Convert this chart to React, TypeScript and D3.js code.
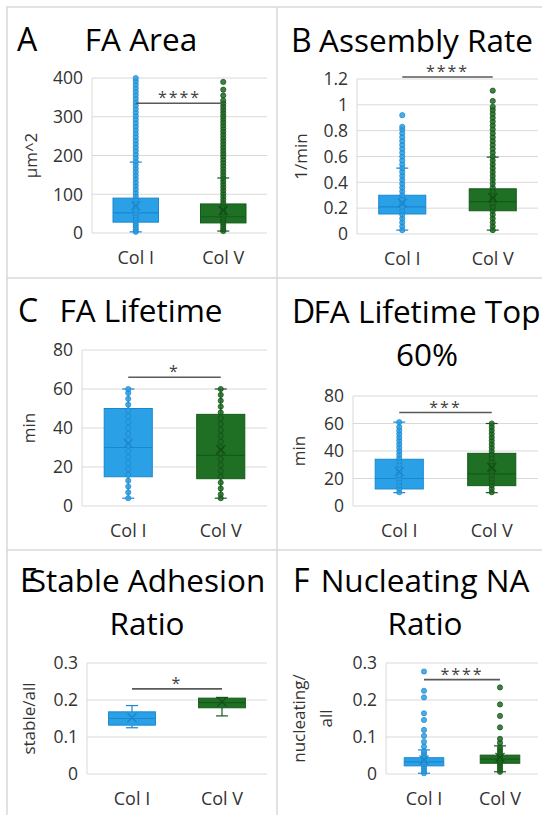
import React, { useEffect, useRef } from 'react';
import * as d3 from 'd3';

const categories = ['Col I', 'Col V'];

// A: FA Area
const areaTicks = [0, 100, 200, 300, 400];
const areaColI = { min: 3, q1: 28, median: 52, q3: 90, max: 183, mean: 70 };
const areaColV = { min: 5, q1: 26, median: 42, q3: 75, max: 142, mean: 58 };
const areaPtsI = [3, 8, 14, 20, 26, 32, 38, 45, 52, 60, 68, 77, 86, 95, 104, 113, 122, 131, 140, 149, 158, 167, 176, 185, 194, 203, 212, 221, 230, 239, 248, 257, 266, 275, 284, 293, 302, 311, 320, 329, 338, 347, 356, 365, 374, 383, 392, 400];
const areaPtsV = [5, 10, 16, 22, 28, 34, 40, 47, 54, 62, 70, 78, 86, 94, 102, 110, 118, 126, 134, 142, 150, 158, 166, 174, 182, 190, 198, 206, 214, 222, 230, 238, 246, 254, 262, 270, 278, 286, 294, 302, 310, 318, 326, 334, 342, 355, 370, 390];

// B: Assembly Rate
const rateTicks = [0, 0.2, 0.4, 0.6, 0.8, 1, 1.2];
const rateColI = { min: 0.03, q1: 0.155, median: 0.21, q3: 0.3, max: 0.51, mean: 0.24 };
const rateColV = { min: 0.03, q1: 0.18, median: 0.25, q3: 0.35, max: 0.595, mean: 0.28 };
const ratePtsI = [0.03, 0.06, 0.09, 0.12, 0.15, 0.18, 0.21, 0.24, 0.27, 0.3, 0.33, 0.36, 0.39, 0.42, 0.45, 0.48, 0.51, 0.54, 0.57, 0.6, 0.63, 0.66, 0.69, 0.72, 0.75, 0.78, 0.81, 0.83, 0.92];
const ratePtsV = [0.03, 0.06, 0.09, 0.12, 0.15, 0.18, 0.21, 0.24, 0.27, 0.3, 0.33, 0.36, 0.39, 0.42, 0.45, 0.48, 0.51, 0.54, 0.57, 0.6, 0.63, 0.66, 0.69, 0.72, 0.75, 0.78, 0.81, 0.84, 0.87, 0.9, 0.93, 0.96, 0.985, 1.03, 1.11];

// C: FA Lifetime
const lifeTicks = [0, 20, 40, 60, 80];
const lifeColI = { min: 4, q1: 15, median: 30, q3: 50, max: 60, mean: 32 };
const lifeColV = { min: 4, q1: 14, median: 26, q3: 47, max: 60, mean: 29 };
const lifePtsI = [4, 7, 10, 13, 16, 19, 22, 25, 28, 31, 34, 37, 40, 43, 46, 49, 52, 55, 58, 60];
const lifePtsV = [4, 6, 9, 12, 15, 18, 21, 24, 27, 30, 33, 36, 39, 42, 45, 48, 51, 54, 57, 60];

// D: FA Lifetime Top 60%
const topTicks = [0, 20, 40, 60, 80];
const topColI = { min: 9.7, q1: 12.4, median: 20, q3: 34, max: 61, mean: 25 };
const topColV = { min: 9.7, q1: 14.8, median: 23.3, q3: 38.3, max: 60, mean: 28 };
const topPtsI = [10, 12.5, 15, 17.5, 20, 22.5, 25, 27.5, 30, 32.5, 35, 37.5, 40, 42.5, 45, 47.5, 50, 52.5, 55, 57.5, 61];
const topPtsV = [10, 12.5, 15, 17.5, 20, 22.5, 25, 27.5, 30, 32.5, 35, 37.5, 40, 42.5, 45, 47.5, 50, 52.5, 55, 57.5, 60];

// E: Stable Adhesion Ratio
const stableTicks = [0, 0.1, 0.2, 0.3];
const stableColI = { min: 0.125, q1: 0.132, median: 0.15, q3: 0.168, max: 0.185, mean: 0.152 };
const stableColV = { min: 0.157, q1: 0.179, median: 0.193, q3: 0.205, max: 0.207, mean: 0.195 };
const stablePtsI: number[] = [];
const stablePtsV: number[] = [];

// F: Nucleating NA Ratio
const nucTicks = [0, 0.1, 0.2, 0.3];
const nucColI = { min: 0.002, q1: 0.022, median: 0.033, q3: 0.044, max: 0.065, mean: 0.038 };
const nucColV = { min: 0.006, q1: 0.029, median: 0.04, q3: 0.051, max: 0.076, mean: 0.045 };
const nucPtsI = [0.002, 0.008, 0.014, 0.02, 0.026, 0.032, 0.038, 0.044, 0.05, 0.056, 0.062, 0.074, 0.087, 0.103, 0.119, 0.146, 0.164, 0.207, 0.225, 0.277];
const nucPtsV = [0.006, 0.012, 0.018, 0.024, 0.03, 0.036, 0.042, 0.048, 0.054, 0.06, 0.066, 0.072, 0.084, 0.095, 0.126, 0.157, 0.188, 0.234];

// significance bars
const sigLevels = [335, 1.215, 66, 68, 0.23, 0.255];
const sigLabels = ['****', '****', '*', '***', '*', '****'];

const colors = [
  { fill: '#2AA1E6', stroke: '#1B87CF', dot: '#2B9FE4', dotStroke: '#1A86CC' },
  { fill: '#1F6F24', stroke: '#165A1B', dot: '#1D6B22', dotStroke: '#124E16' },
];

const FONT = "'Open Sans', sans-serif";

const panels = [
  { letter: 'A', title: ['FA Area'], yLabel: ['μm^2'], ticks: areaTicks, stats: [areaColI, areaColV], pts: [areaPtsI, areaPtsV], fmt: d3.format('d'),
    box: { left: 92, right: 267, top: 78, bottom: 233 }, letterX: 17, titleX: 141, titleY: 51, yLabelX: [32] },
  { letter: 'B', title: ['Assembly Rate'], yLabel: ['1/min'], ticks: rateTicks, stats: [rateColI, rateColV], pts: [ratePtsI, ratePtsV], fmt: (d: number) => String(+d.toFixed(1)),
    box: { left: 357, right: 538, top: 79, bottom: 234 }, letterX: 291, titleX: 426, titleY: 52, yLabelX: [302] },
  { letter: 'C', title: ['FA Lifetime'], yLabel: ['min'], ticks: lifeTicks, stats: [lifeColI, lifeColV], pts: [lifePtsI, lifePtsV], fmt: d3.format('d'),
    box: { left: 82, right: 267, top: 350, bottom: 506 }, letterX: 18, titleX: 141, titleY: 322, yLabelX: [30] },
  { letter: 'D', title: ['FA Lifetime Top', '60%'], yLabel: ['min'], ticks: topTicks, stats: [topColI, topColV], pts: [topPtsI, topPtsV], fmt: d3.format('d'),
    box: { left: 353, right: 538, top: 396, bottom: 506 }, letterX: 292, titleX: 427, titleY: 323, yLabelX: [300] },
  { letter: 'E', title: ['Stable Adhesion', 'Ratio'], yLabel: ['stable/all'], ticks: stableTicks, stats: [stableColI, stableColV], pts: [stablePtsI, stablePtsV], fmt: (d: number) => String(+d.toFixed(1)),
    box: { left: 87, right: 267, top: 663, bottom: 774 }, letterX: 20, titleX: 147, titleY: 592, yLabelX: [30] },
  { letter: 'F', title: ['Nucleating NA', 'Ratio'], yLabel: ['nucleating/', 'all'], ticks: nucTicks, stats: [nucColI, nucColV], pts: [nucPtsI, nucPtsV], fmt: (d: number) => String(+d.toFixed(1)),
    box: { left: 386, right: 538, top: 663, bottom: 774 }, letterX: 293, titleX: 425, titleY: 592, yLabelX: [300, 327] },
];

const App = () => {
  const ref = useRef<SVGSVGElement>(null);

  useEffect(() => {
    const svg = d3.select(ref.current);
    svg.selectAll('*').remove();

    // panel frame lines
    const frame = svg.append('g').attr('stroke', '#D9D9D9').attr('stroke-width', 1.5);
    [7, 278, 550].forEach(y => frame.append('line').attr('x1', 6).attr('x2', 542).attr('y1', y).attr('y2', y));
    [7, 277].forEach(x => frame.append('line').attr('x1', x).attr('x2', x).attr('y1', 7).attr('y2', 815));

    panels.forEach((p, pi) => {
      const g = svg.append('g');
      const { left, right, top, bottom } = p.box;
      const y = d3.scaleLinear().domain([0, p.ticks[p.ticks.length - 1]]).range([bottom, top]);
      const x = d3.scaleBand().domain(categories).range([left, right]);
      const bw = x.bandwidth() * 0.52;

      // titles
      g.append('text').attr('x', p.letterX).attr('y', p.titleY).attr('font-size', 32).attr('font-family', FONT).attr('fill', '#000').text(p.letter);
      p.title.forEach((t, i) => {
        g.append('text').attr('x', p.titleX).attr('y', p.titleY + i * 43).attr('text-anchor', 'middle')
          .attr('font-size', 31.5).attr('font-family', FONT).attr('fill', '#000').text(t);
      });

      // gridlines
      g.append('g').selectAll('line').data(p.ticks).join('line')
        .attr('x1', left).attr('x2', right).attr('y1', d => y(d)).attr('y2', d => y(d))
        .attr('stroke', '#D9D9D9').attr('stroke-width', 1);
      g.append('line').attr('x1', left).attr('x2', left).attr('y1', top).attr('y2', bottom).attr('stroke', '#D9D9D9');

      // tick labels
      g.append('g').selectAll('text').data(p.ticks).join('text')
        .attr('x', left - 9).attr('y', d => y(d)).attr('dy', '0.36em').attr('text-anchor', 'end')
        .attr('font-size', 17.5).attr('font-family', FONT).attr('fill', '#333').text(d => p.fmt(d));

      // y label
      const midY = (top + bottom) / 2;
      p.yLabel.forEach((t, i) => {
        g.append('text').attr('transform', `translate(${p.yLabelX[i]},${midY}) rotate(-90)`)
          .attr('text-anchor', 'middle').attr('dominant-baseline', 'middle')
          .attr('font-size', 17).attr('font-family', FONT).attr('fill', '#333').text(t);
      });

      // category labels
      g.append('g').selectAll('text').data(categories).join('text')
        .attr('x', d => x(d)! + x.bandwidth() / 2).attr('y', bottom + 31).attr('text-anchor', 'middle')
        .attr('font-size', 18).attr('font-family', FONT).attr('fill', '#333').text(d => d);

      // boxes
      categories.forEach((c, ci) => {
        const s = p.stats[ci];
        const col = colors[ci];
        const cx = x(c)! + x.bandwidth() / 2;
        const bg = g.append('g');
        // whiskers
        bg.append('line').attr('x1', cx).attr('x2', cx).attr('y1', y(s.q3)).attr('y2', y(s.max)).attr('stroke', col.stroke).attr('stroke-width', 1.2);
        bg.append('line').attr('x1', cx).attr('x2', cx).attr('y1', y(s.q1)).attr('y2', y(s.min)).attr('stroke', col.stroke).attr('stroke-width', 1.2);
        [s.min, s.max].forEach(v => {
          bg.append('line').attr('x1', cx - 6).attr('x2', cx + 6).attr('y1', y(v)).attr('y2', y(v)).attr('stroke', col.stroke).attr('stroke-width', 1.2);
        });
        bg.append('rect').attr('x', cx - bw / 2).attr('width', bw).attr('y', y(s.q3)).attr('height', y(s.q1) - y(s.q3))
          .attr('fill', col.fill).attr('stroke', col.stroke).attr('stroke-width', 1);
        bg.append('line').attr('x1', cx - bw / 2).attr('x2', cx + bw / 2).attr('y1', y(s.median)).attr('y2', y(s.median))
          .attr('stroke', col.stroke).attr('stroke-width', 1.2);
        // points
        bg.selectAll('circle').data(p.pts[ci]).join('circle')
          .attr('cx', cx).attr('cy', d => y(d)).attr('r', 2.6)
          .attr('fill', col.dot).attr('fill-opacity', 0.85).attr('stroke', col.dotStroke).attr('stroke-width', 0.7);
        // mean marker
        const my = y(s.mean);
        bg.append('path').attr('d', `M${cx - 4.5},${my - 4.5}L${cx + 4.5},${my + 4.5}M${cx - 4.5},${my + 4.5}L${cx + 4.5},${my - 4.5}`)
          .attr('stroke', col.dotStroke).attr('stroke-width', 1.3);
      });

      // significance bar
      const sy = y(sigLevels[pi]);
      const x1 = x(categories[0])! + x.bandwidth() / 2;
      const x2 = x(categories[1])! + x.bandwidth() / 2;
      g.append('line').attr('x1', x1).attr('x2', x2).attr('y1', sy).attr('y2', sy).attr('stroke', '#595959').attr('stroke-width', 1.6);
      g.append('text').attr('x', (x1 + x2) / 2).attr('y', sy).attr('text-anchor', 'middle')
        .attr('font-size', 16).attr('font-family', FONT).attr('letter-spacing', 2).attr('fill', '#404040').text(sigLabels[pi]);
    });
  }, []);

  return (
    <div style={{ position: 'absolute', left: 0, top: 0 }}>
      <svg ref={ref} width={542} height={815} style={{ display: 'block', background: '#fff' }} />
    </div>
  );
};

export default App;
